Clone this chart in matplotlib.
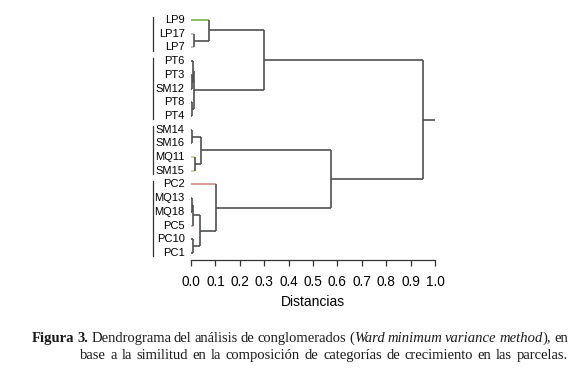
import matplotlib
matplotlib.use("Agg")
import matplotlib.pyplot as plt

# ---------------- data ----------------
leaf_labels = ["LP9", "LP17", "LP7", "PT6", "PT3", "SM12", "PT8", "PT4",
               "SM14", "SM16", "MQ11", "SM15", "PC2", "MQ13", "MQ18", "PC5",
               "PC10", "PC1"]
# merges: (child_a, child_b, distance); ids >= 18 refer to earlier merges
merge_a = [1, 0, 4, 3, 6, 21, 19, 8, 10, 25, 13, 15, 16, 29, 12, 27, 24]
merge_b = [2, 18, 5, 20, 7, 22, 23, 9, 11, 26, 14, 28, 17, 30, 31, 32, 33]
merge_h = [0.012, 0.073, 0.003, 0.008, 0.004, 0.014, 0.30, 0.005, 0.015,
           0.043, 0.003, 0.007, 0.008, 0.037, 0.103, 0.575, 0.95]
root_end = 1.0
groups = [3, 5, 4, 6]  # leaves per group (separator bars)
leaf_colors = {"LP9": "#79b24f", "LP17": "#b8b8b8", "LP7": "#b8b8b8",
               "MQ11": "#c9cf8a", "SM15": "#c9cf8a", "PC2": "#d48a8a",
               "PC5": "#c99aa6"}
xticks = [0.0, 0.1, 0.2, 0.3, 0.4, 0.5, 0.6, 0.7, 0.8, 0.9, 1.0]

# ---------------- figure ----------------
W, H = 580, 378
fig = plt.figure(figsize=(W / 100, H / 100), dpi=100)
ax_left, ax_right = 191 / W, 435 / W
ax_top, ax_bot = 12, 260
ax = fig.add_axes([ax_left, 1 - ax_bot / H, ax_right - ax_left, (ax_bot - ax_top) / H])

n = len(leaf_labels)
spacing = (253 - 20) / (n - 1)
ax.set_xlim(0, 1)
ax.set_ylim(17 + (ax_bot - 253) / spacing, -(20 - ax_top) / spacing)

line_c = "#505050"
lw = 1.2
pos = {i: float(i) for i in range(n)}
hgt = {i: 0.0 for i in range(n)}
for k, (a, b, h) in enumerate(zip(merge_a, merge_b, merge_h)):
    nid = n + k
    for c in (a, b):
        col = line_c
        if c < n and leaf_labels[c] in leaf_colors:
            col = leaf_colors[leaf_labels[c]]
        ax.plot([hgt[c], h], [pos[c], pos[c]], color=col, lw=lw, clip_on=False,
                solid_capstyle="butt")
    ax.plot([h, h], [pos[a], pos[b]], color=line_c, lw=lw, clip_on=False,
            solid_capstyle="butt")
    pos[nid] = (pos[a] + pos[b]) / 2
    hgt[nid] = h
root = n + len(merge_h) - 1
ax.plot([hgt[root], root_end], [pos[root], pos[root]], color=line_c, lw=lw,
        clip_on=False, solid_capstyle="butt")

for i, lab in enumerate(leaf_labels):
    ax.text(-0.026, i, lab, ha="right", va="center", fontsize=8,
            family="Liberation Sans", color="#000000", clip_on=False)

sep_x = -0.157
start = 0
for g in groups:
    ax.plot([sep_x, sep_x], [start - 0.25, start + g - 0.75], color="#333333",
            lw=0.9, clip_on=False)
    start += g

for s in ["top", "right", "left"]:
    ax.spines[s].set_visible(False)
ax.spines["bottom"].set_bounds(0, 1)
ax.spines["bottom"].set_color("#333333")
ax.spines["bottom"].set_linewidth(0.9)
ax.set_yticks([])
ax.set_xticks(xticks)
ax.set_xticklabels([f"{t:.1f}" for t in xticks], fontsize=9.8,
                   family="Liberation Sans", color="#000000")
ax.tick_params(axis="x", length=4, width=0.9, color="#333333", pad=7)
ax.set_xlabel("Distancias", fontsize=10, family="Liberation Sans", labelpad=4,
              color="#000000")
ax.patch.set_visible(False)

# ---------------- caption ----------------
renderer = fig.canvas.get_renderer()
serif = "Liberation Serif"


def measure(pieces, size):
    w = 0
    for txt, st in pieces:
        t = fig.text(0, 0, txt, fontsize=size, family=serif,
                     fontweight="bold" if st == "b" else "normal",
                     fontstyle="italic" if st == "i" else "normal")
        w += t.get_window_extent(renderer).width
        t.remove()
    return w


def place_line(words, x0, x1, ypx, size):
    widths = [measure(w, size) for w in words]
    total = sum(widths)
    gap = max((x1 - x0 - total) / (len(words) - 1), 2.0)
    x = x0
    for w, wd in zip(words, widths):
        xx = x
        for txt, st in w:
            t = fig.text(xx / W, 1 - ypx / H, txt, fontsize=size, family=serif,
                         fontweight="bold" if st == "b" else "normal",
                         fontstyle="italic" if st == "i" else "normal",
                         va="baseline", ha="left", color="#1a1a1a")
            xx += t.get_window_extent(renderer).width
        x += wd + gap


def words_of(s, st="r"):
    return [[(w, st)] for w in s.split()]


size = 10.5
line1 = [[("Figura", "b")], [("3.", "b")]] + words_of("Dendrograma del análisis de conglomerados") \
    + [[("(", "r"), ("Ward", "i")]] + words_of("minimum variance", "i") \
    + [[("method", "i"), ("),", "r")], [("en", "r")]]
line2 = words_of("base a la similitud en la composición de categorías de crecimiento en las parcelas.")

place_line(line1, 32, 568, 342, size)
place_line(line2, 80, 568, 359, size)

fig.savefig("out.png", dpi=100)
